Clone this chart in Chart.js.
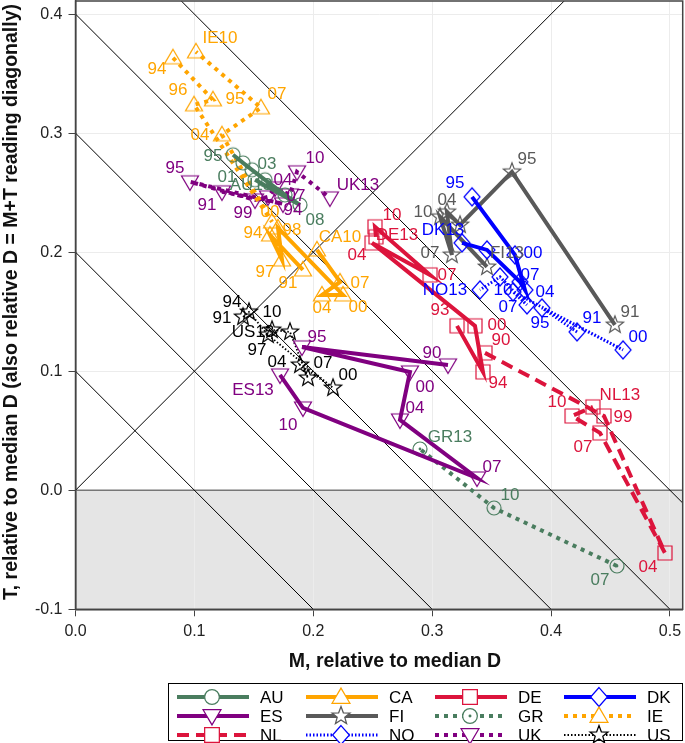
<!DOCTYPE html>
<html><head><meta charset="utf-8">
<script src="https://cdn.jsdelivr.net/npm/chart.js@4.4.1/dist/chart.umd.min.js"></script>
<style>html,body{margin:0;padding:0;background:#fff}#wrap{width:685px;height:743px;position:relative}</style>
</head><body><div id="wrap"><canvas id="c"></canvas></div>
<script>
// ---------------- DATA (M = x, T = y, labels per point) ----------------
const auM = [0.1325,0.1409,0.1484,0.1594,0.1762,0.1888,0.1510];
const auT = [0.2818,0.2750,0.2692,0.2608,0.2481,0.2397,0.2608];
const auLab = ['95','01','03','','','08','AU13'];

const caM = [0.1913,0.1636,0.1737,0.1703,0.2250,0.2073,0.2225,0.2031];
const caT = [0.1851,0.2145,0.1935,0.2204,0.1641,0.1641,0.1750,0.2019];
const caLab = ['91','94','97','98','00','04','07','CA10'];

const deM = [0.3209,0.3427,0.3360,0.2494,0.2982,0.2519,0.2527];
const deT = [0.1381,0.0994,0.1381,0.2078,0.1809,0.2213,0.2129];
const deLab = ['93','94','00','04','07','10','DE13'];

const dkM = [0.3335,0.3696,0.3780,0.3738,0.3461,0.3251];
const dkT = [0.2465,0.1977,0.1683,0.1751,0.2019,0.2078];
const dkLab = ['95','00','04','07','','DK13'];

const esM = [0.3133,0.1905,0.2813,0.2729,0.3377,0.1913,0.1720];
const esT = [0.1053,0.1204,0.0994,0.0591,0.0103,0.0692,0.0969];
const esLab = ['90','95','00','04','07','10','ES13'];

const fiM = [0.4537,0.3671,0.3234,0.3124,0.3166,0.3066,0.3461];
const fiT = [0.1389,0.2675,0.2229,0.2339,0.1977,0.2297,0.1876];
const fiLab = ['91','95','','04','07','10','FI13'];

const grM = [0.4554,0.3520,0.2897];
const grT = [-0.0636,-0.0149,0.0347];
const grLab = ['07','10','GR13'];

const ieM = [0.0820,0.1156,0.0997,0.1653,0.1232,0.1560,0.1013];
const ieT = [0.3633,0.3280,0.3238,0.2255,0.2986,0.3213,0.3683];
const ieLab = ['94','95','96','00','04','07','IE10'];

const nlM = [0.3444,0.4445,0.4958,0.4411,0.4176,0.4352];
const nlT = [0.1154,0.0624,-0.0527,0.0482,0.0624,0.0700];
const nlLab = ['90','99','04','07','10','NL13'];

const noM = [0.4218,0.3923,0.4605,0.3680,0.3797,0.3570,0.3402];
const noT = [0.1330,0.1532,0.1179,0.1666,0.1557,0.1792,0.1683];
const noLab = ['91','95','00','','07','10','NO13'];

const ukM = [0.1232,0.1745,0.0963,0.1510,0.1619,0.1678,0.1804,0.1863,0.2140];
const ukT = [0.2507,0.2406,0.2591,0.2439,0.2465,0.2540,0.2481,0.2675,0.2456];
const ukLab = ['91','94','95','99','','04','07','10','UK13'];

const usM = [0.1409,0.1459,0.1619,0.2166,0.1888,0.1955,0.1804,0.1653];
const usT = [0.1456,0.1498,0.1305,0.0860,0.1053,0.0944,0.1330,0.1347];
const usLab = ['91','94','97','00','04','07','10','US13'];

const xTicks = [0.0,0.1,0.2,0.3,0.4,0.5];
const yTicks = [-0.1,0.0,0.1,0.2,0.3,0.4];
const diagLevels = [0.1,0.2,0.3,0.4,0.5];
const legendOrder = ['AU','CA','DE','DK','ES','FI','GR','IE','NL','NO','UK','US'];
const xTitle = 'M, relative to median D';
const yTitle = 'T, relative to median D (also relative D = M+T reading diagonally)';

// ---------------- STYLES ----------------
const GREEN='#4a7d5f', ORANGE='#ffa500', RED='#dc143c', BLUE='#0000ff', PURPLE='#800080', GREY='#595959', BLACK='#000000';
const series = {
 AU:{M:auM,T:auT,L:auLab,color:GREEN,dash:[],w:4,marker:'circle',
     off:[[-20,2],[-16,14],[15,-5],null,null,[15,15],[-4,6]]},
 CA:{M:caM,T:caT,L:caLab,color:ORANGE,dash:[],w:4,marker:'triUp',
     off:[[-15,13],[-17,-2],[-17,12],[14,2],[15,12],[0,13],[20,1],[23,-13]]},
 DE:{M:deM,T:deT,L:deLab,color:RED,dash:[],w:4,marker:'square',
     off:[[-17,-16],[15,11],[22,-1],[-15,12],[17,0],[17,-12],[21,-2]]},
 DK:{M:dkM,T:dkT,L:dkLab,color:BLUE,dash:[],w:4,marker:'diamond',
     off:[[-17,-14],[18,-2],[20,2],[10,-7],null,[-19,-13]]},
 ES:{M:esM,T:esT,L:esLab,color:PURPLE,dash:[],w:4,marker:'triDown',
     off:[[-16,-12],[15,-10],[15,15],[15,-12],[15,-11],[-15,17],[-27,15]]},
 FI:{M:fiM,T:fiT,L:fiLab,color:GREY,dash:[],w:4,marker:'star',
     off:[[15,-13],[15,-13],null,[0,-12],[-22,-2],[-17,-5],[20,-14]]},
 GR:{M:grM,T:grT,L:grLab,color:GREEN,dash:[4,5],w:4,marker:'circleDot',
     off:[[-17,14],[16,-13],[30,-12]]},
 IE:{M:ieM,T:ieT,L:ieLab,color:ORANGE,dash:[4,5],w:4,marker:'triUp',
     off:[[-16,12],[22,0],[-16,-14],[-2,-10],[-22,1],[16,-13],[24,-14]]},
 NL:{M:nlM,T:nlT,L:nlLab,color:RED,dash:[12,7],w:4,marker:'square',
     off:[[16,-13],[19,1],[-17,14],[-17,14],[-15,-14],[27,-12]]},
 NO:{M:noM,T:noT,L:noLab,color:BLUE,dash:[1.5,2],w:3,marker:'diamond',
     off:[[15,-14],[-2,15],[15,-13],null,[-19,2],[3,13],[-35,0]]},
 UK:{M:ukM,T:ukT,L:ukLab,color:PURPLE,dash:[4,5],w:4,marker:'triDown',
     off:[[-15,13],[10,6],[-15,-14],[-12,13],null,[8,-8],[6,1],[18,-14],[28,-13]]},
 US:{M:usM,T:usT,L:usLab,color:BLACK,dash:[1.5,2],w:1.8,marker:'star',
     off:[[-21,1],[-17,-10],[-11,15],[15,-13],[-23,-3],[15,-15],[-18,-20],[-19,2]]}
};

function drawMarkerPath(g,type){
  g.beginPath();
  if(type==='circle'||type==='circleDot'){ g.arc(0,0,7,0,Math.PI*2); }
  else if(type==='triUp'){ g.moveTo(0,-8.5); g.lineTo(8.5,6); g.lineTo(-8.5,6); g.closePath(); }
  else if(type==='triDown'){ g.moveTo(0,8.5); g.lineTo(8.5,-6); g.lineTo(-8.5,-6); g.closePath(); }
  else if(type==='square'){ g.rect(-7,-7,14,14); }
  else if(type==='diamond'){ g.moveTo(0,-9); g.lineTo(8,0); g.lineTo(0,9); g.lineTo(-8,0); g.closePath(); }
  else if(type==='star'){
    for(let k=0;k<10;k++){ const r=k%2===0?9:3.8; const a=-Math.PI/2+k*Math.PI/5; const px=r*Math.cos(a), py=r*Math.sin(a); if(k===0)g.moveTo(px,py); else g.lineTo(px,py);} g.closePath();
  }
}
function drawMarker(g,type,color){
  g.save(); g.strokeStyle=color; g.lineWidth=1.2; g.setLineDash([]);
  drawMarkerPath(g,type); g.stroke();
  if(type==='circleDot'){ g.beginPath(); g.arc(0,0,1.4,0,Math.PI*2); g.fillStyle=color; g.fill(); }
  g.restore();
}
function makeMarker(type,color){
  const s=24, c=document.createElement('canvas'); c.width=s; c.height=s;
  const g=c.getContext('2d'); g.translate(s/2,s/2); drawMarker(g,type,color); return c;
}

const datasets = legendOrder.map(k=>{
  const s=series[k];
  return {label:k, data:s.M.map((m,i)=>({x:m,y:s.T[i]})), showLine:true,
    borderColor:s.color, borderWidth:s.w, borderDash:s.dash, borderCapStyle:'butt', borderJoinStyle:'miter',
    pointStyle:makeMarker(s.marker,s.color), pointRadius:8, pointHoverRadius:8, tension:0, fill:false};
});

const FONT='"Liberation Sans", Arial, sans-serif';
Chart.defaults.font.family=FONT;

const plugin = {
  id:'deco',
  beforeDraw(chart){
    const {ctx,chartArea:a,scales:{x,y}}=chart;
    ctx.save(); ctx.fillStyle='#fff'; ctx.fillRect(0,0,chart.width,chart.height);
    const y0=y.getPixelForValue(0);
    ctx.fillStyle='#e5e5e5'; ctx.fillRect(a.left,y0,a.right-a.left,a.bottom-y0);
    ctx.restore();
  },
  beforeDatasetsDraw(chart){
    const {ctx,chartArea:a,scales:{x,y}}=chart;
    ctx.save(); ctx.beginPath(); ctx.rect(a.left,a.top,a.right-a.left,a.bottom-a.top); ctx.clip();
    ctx.strokeStyle='#777'; ctx.lineWidth=1.5; ctx.beginPath();
    ctx.moveTo(a.left,y.getPixelForValue(0)); ctx.lineTo(a.right,y.getPixelForValue(0)); ctx.stroke();
    ctx.strokeStyle='#000'; ctx.lineWidth=1;
    diagLevels.forEach(c=>{ ctx.beginPath(); ctx.moveTo(x.getPixelForValue(-1),y.getPixelForValue(c+1)); ctx.lineTo(x.getPixelForValue(c+1),y.getPixelForValue(-1)); ctx.stroke(); });
    ctx.beginPath(); ctx.moveTo(x.getPixelForValue(0),y.getPixelForValue(0)); ctx.lineTo(x.getPixelForValue(1),y.getPixelForValue(1)); ctx.stroke();
    ctx.restore();
  },
  afterDatasetsDraw(chart){
    const {ctx,chartArea:a}=chart;
    ctx.save(); ctx.font='17px '+FONT; ctx.textAlign='center'; ctx.textBaseline='middle';
    chart.data.datasets.forEach((ds,di)=>{
      const s=series[ds.label]; const meta=chart.getDatasetMeta(di);
      meta.data.forEach((pt,i)=>{ const t=s.L[i]; const o=s.off[i]; if(!t||!o) return; ctx.fillStyle=s.color; ctx.fillText(t,pt.x+o[0],pt.y+o[1]); });
    });
    ctx.strokeStyle='#444'; ctx.lineWidth=1.5; ctx.strokeRect(a.left,a.top,a.right-a.left,a.bottom-a.top);
    ctx.restore();
  },
  afterDraw(chart){
    const ctx=chart.ctx; ctx.save();
    ctx.fillStyle='#111'; ctx.font='bold 19.5px '+FONT; ctx.textAlign='center'; ctx.textBaseline='middle';
    ctx.fillText(xTitle,395,662);
    ctx.save(); ctx.translate(12,302); ctx.rotate(-Math.PI/2); ctx.fillText(yTitle,0,0); ctx.restore();
    const L=168, T=683, W=514, H=58, pitch=129, rows=[697,716,735];
    ctx.fillStyle='#fff'; ctx.fillRect(L,T,W,H);
    ctx.strokeStyle='#000'; ctx.lineWidth=1; ctx.strokeRect(L+0.5,T+0.5,W,H-1);
    ctx.font='17px '+FONT; ctx.textBaseline='middle'; ctx.textAlign='left';
    legendOrder.forEach((k,i)=>{
      const s=series[k]; const col=i%4, row=Math.floor(i/4);
      const x0=L+9+col*pitch, x1=L+81+col*pitch, xm=L+44+col*pitch, yy=rows[row];
      ctx.strokeStyle=s.color; ctx.lineWidth=s.w; ctx.setLineDash(s.dash); ctx.lineCap='butt';
      ctx.beginPath(); ctx.moveTo(x0,yy); ctx.lineTo(x1,yy); ctx.stroke(); ctx.setLineDash([]);
      ctx.save(); ctx.translate(xm,yy); ctx.scale(1.05,1.05); ctx.fillStyle='#fff'; drawMarkerPath(ctx,s.marker); ctx.fill(); drawMarker(ctx,s.marker,s.color); ctx.restore();
      ctx.fillStyle='#000'; ctx.fillText(k,L+92+col*pitch,yy+1);
    });
    ctx.restore();
  }
};

new Chart(document.getElementById('c'),{
  type:'scatter',
  data:{datasets},
  options:{
    responsive:true, maintainAspectRatio:false, animation:false, events:[],
    layout:{autoPadding:false, padding:{left:0,top:1,right:2.3,bottom:100}},
    plugins:{legend:{display:false},tooltip:{enabled:false}},
    scales:{
      x:{type:'linear',min:0,max:0.5107,
        afterBuildTicks(s){s.ticks=xTicks.map(v=>({value:v}));},
        ticks:{callback:v=>v.toFixed(1),color:'#222',font:{size:16},padding:6,maxRotation:0},
        grid:{color:'#ececec',tickColor:'#444',tickLength:7,lineWidth:1},
        border:{color:'#444',width:1.5},
        title:{display:false},
        afterFit(s){s.height=33.7; s.paddingLeft=0; s.paddingRight=0;}},
      y:{type:'linear',min:-0.1,max:0.411,
        afterBuildTicks(s){s.ticks=yTicks.map(v=>({value:v}));},
        ticks:{callback:v=>v.toFixed(1),color:'#222',font:{size:16},padding:6},
        grid:{color:'#ececec',tickColor:'#444',tickLength:7,lineWidth:1},
        border:{color:'#444',width:1.5},
        title:{display:false},
        afterFit(s){s.width=75.5; s.paddingTop=0; s.paddingBottom=0;}}
    }
  },
  plugins:[plugin]
});
</script></body></html>
